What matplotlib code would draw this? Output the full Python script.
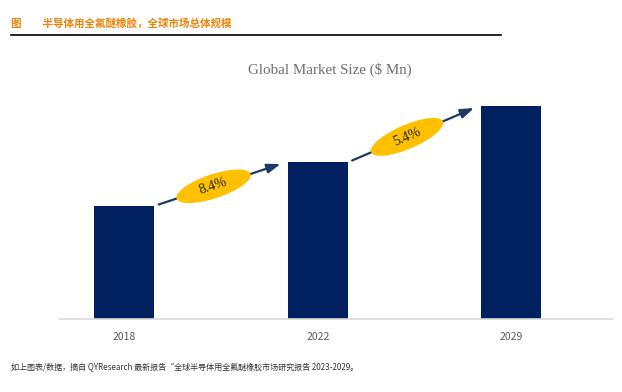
import matplotlib.pyplot as plt
import numpy as np
from matplotlib.patches import Ellipse
from matplotlib.transforms import ScaledTranslation

# values (relative bar heights, no y axis shown)
years = ["2018", "2022", "2029"]
market_size = [113, 157, 213]
cagr_labels = ["8.4%", "5.4%"]

header = "图　　半导体用全氟醚橡胶，全球市场总体规模"
chart_title = "Global Market Size ($ Mn)"
source_note = "如上图表/数据，摘自 QYResearch 最新报告“全球半导体用全氟醚橡胶市场研究报告 2023-2029。"

BAR_COLOR = "#002060"
ARROW_COLOR = "#1F3864"
BUBBLE_COLOR = "#FFC000"
ORANGE = "#EE8208"
GRAY = "#595959"

plt.rcParams["font.family"] = ["Noto Sans CJK SC", "DejaVu Sans"]

W, H = 622, 392
fig = plt.figure(figsize=(W / 100, H / 100), dpi=100)

# header and rule
fig.text(11 / W, 1 - 23 / H, header, color=ORANGE, fontsize=7.6, weight="bold",
         ha="left", va="center")
fig.add_artist(plt.Line2D([11 / W, 501 / W], [1 - 35 / H, 1 - 35 / H],
                          color="black", lw=1.2))

# chart title
fig.text(330 / W, 1 - 70 / H, chart_title, color="#6E6E6E", fontsize=10.8,
         family="Liberation Serif", ha="center", va="center")

ax = fig.add_axes([60 / W, (H - 319) / H, 552 / W, 259 / H])
x = np.arange(len(years))
bar_w = 0.31
ax.bar(x, market_size, width=bar_w, color=BAR_COLOR, zorder=2)
ax.set_xlim(-0.333, 2.52)
ax.set_ylim(0, 259)

ax.set_xticks(x, years)
ax.tick_params(axis="x", length=0, pad=9, labelsize=7.5, labelcolor=GRAY)
ax.set_yticks([])
for side in ["left", "right", "top"]:
    ax.spines[side].set_visible(False)
ax.spines["bottom"].set_color("#D9D9D9")
ax.spines["bottom"].set_linewidth(1.2)

# growth arrows with CAGR bubbles
for i, label in enumerate(cagr_labels):
    x0 = x[i] + bar_w / 2 + 0.022
    y0 = market_size[i] + 1.5
    x1 = x[i + 1] - bar_w / 2 - 0.038
    y1 = market_size[i + 1] - 2
    ax.annotate("", xy=(x1, y1), xytext=(x0, y0),
                arrowprops=dict(arrowstyle="-|>,head_length=0.8,head_width=0.28",
                                color=ARROW_COLOR, lw=1.6, shrinkA=0, shrinkB=0,
                                mutation_scale=10), zorder=3)
    p0 = ax.transData.transform((x0, y0))
    p1 = ax.transData.transform((x1, y1))
    angle = np.degrees(np.arctan2(p1[1] - p0[1], p1[0] - p0[0]))
    cx = x0 + 0.45 * (x1 - x0)
    cy = y0 + 0.45 * (y1 - y0)
    offset = ScaledTranslation(cx, cy, ax.transData)
    ax.add_patch(Ellipse((0, 0), width=0.78, height=0.24, angle=angle,
                         transform=fig.dpi_scale_trans + offset,
                         facecolor=BUBBLE_COLOR, edgecolor="none", zorder=4))
    ax.text(cx, cy, label, rotation=angle, rotation_mode="anchor",
            ha="center", va="center", family="Liberation Serif",
            fontsize=10, color="#262626", zorder=5)

# source note
fig.text(11 / W, 1 - 368 / H, source_note, color="#333333", fontsize=5.8,
         ha="left", va="center")

fig.savefig("out.png", dpi=100)
